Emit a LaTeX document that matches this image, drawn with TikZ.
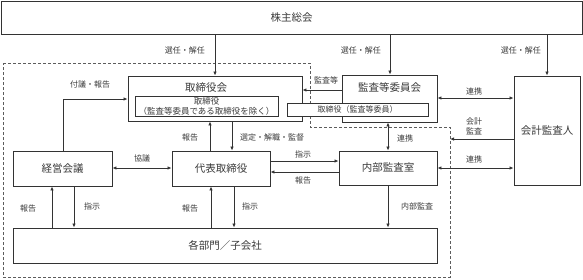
\documentclass[tikz,border=0pt]{standalone}
\usepackage{fontspec}
\setmainfont{Noto Sans CJK JP}
\usetikzlibrary{arrows.meta}
\definecolor{ln}{HTML}{333333}
\definecolor{tx}{HTML}{3A3A3A}
\tikzset{
  box/.style={draw=ln, line width=0.9pt, fill=white, inner sep=0pt, text=tx, font=\fontsize{10.5}{12}\selectfont},
  lbl/.style={inner sep=0pt, text=tx, font=\fontsize{8}{10}\selectfont},
  conn/.style={draw=ln, line width=0.9pt, -{Latex[length=4pt,width=3.5pt]}},
  dconn/.style={draw=ln, line width=0.9pt, {Latex[length=4pt,width=3.5pt]}-{Latex[length=4pt,width=3.5pt]}},
  bound/.style={draw=ln!80, line width=0.9pt, dash pattern=on 3pt off 2pt}
}
\begin{document}
\begin{tikzpicture}[x=1pt,y=-1pt]
\useasboundingbox (0,0) rectangle (583,279);
% dashed boundary
\draw[bound] (3,63) -- (310,63) -- (310,127) -- (450,127) -- (450,277) -- (3,277) -- cycle;
\coordinate (dashR) at (450,139);
% boxes
\node[box, minimum width=581pt, minimum height=33pt] (top) at (291.5,17.5) {株主総会};
\node[box, minimum width=174pt, minimum height=45pt] (tr) at (215,98.5) {};
\node[text=tx, font=\fontsize{10.5}{12}\selectfont, inner sep=0pt] (trt) at (206,87.5) {取締役会};
\node[box, minimum width=143pt, minimum height=20pt, font=\fontsize{8.5}{10}\selectfont, align=center] (trin) at (206.5,106) {取締役\\（監査等委員である取締役を除く）};
\node[box, minimum width=95pt, minimum height=47pt] (kan) at (389.5,98.5) {};
\node[text=tx, font=\fontsize{10.5}{12}\selectfont, inner sep=0pt] (kant) at (389.5,87.5) {監査等委員会};
\node[box, minimum width=141pt, minimum height=13pt, font=\fontsize{8}{10}\selectfont] (trkan) at (357.5,109.5) {取締役（監査等委員）};
\node[box, minimum width=66pt, minimum height=109pt] (kaikei) at (547,130.5) {会計監査人};
\node[box, minimum width=99pt, minimum height=35pt] (keiei) at (62.5,168.5) {経営会議};
\node[box, minimum width=98pt, minimum height=35pt] (daihyo) at (221,168.5) {代表取締役};
\node[box, minimum width=98pt, minimum height=34pt] (naibu) at (388,168) {内部監査室};
\node[box, minimum width=424pt, minimum height=35pt] (bumon) at (225,245.5) {各部門／子会社};
% from top
\draw[conn] (top.south -| tr.north) -- (tr.north);
\draw[conn] (top.south -| 390,0) -- (390,0 |- kan.north);
\draw[conn] (top.south -| kaikei.north) -- (kaikei.north);
\node[lbl, anchor=east] (s1) at (205,50) {選任・解任};
\node[lbl, anchor=east] (s2) at (381,50) {選任・解任};
\node[lbl, anchor=east] (s3) at (541,50) {選任・解任};
% keiei -> tr
\draw[conn] (keiei.north -| 63,0) |- (tr.west |- 0,99);
\node[lbl] (l1) at (90,84) {付議・報告};
% kan -> tr
\draw[conn] (kan.west |- 0,90) -- (tr.east |- 0,90);
\node[lbl] (l2) at (326,80) {監査等};
% daihyo <-> tr
\draw[conn] (daihyo.north -| 210,0) -- (tr.south -| 210,0);
\node[lbl] (l3) at (190,137) {報告};
\draw[conn] (tr.south -| 232,0) -- (daihyo.north -| 232,0);
\node[lbl, anchor=west] (l4) at (240,137) {選定・解職・監督};
% keiei <-> daihyo
\draw[dconn] (keiei.east |- 0,168) -- (daihyo.west |- 0,168);
\node[lbl] (l5) at (142,158) {協議};
% daihyo <-> naibu
\draw[conn] (daihyo.east |- 0,161) -- (naibu.west |- 0,161);
\node[lbl] (l6) at (303,154) {指示};
\draw[conn] (naibu.west |- 0,172) -- (daihyo.east |- 0,172);
\node[lbl] (l7) at (303,180) {報告};
% kan <-> kaikei
\draw[dconn] (kan.east |- 0,98) -- (kaikei.west |- 0,98);
\node[lbl] (l8) at (474,91) {連携};
% kaikei -> boundary
\draw[conn] (kaikei.west |- dashR) -- (dashR);
\node[lbl, align=center] (l9) at (474,126) {会計\\監査};
% kan <-> naibu
\draw[dconn] (kan.south -| 388,0) -- (naibu.north -| 388,0);
\node[lbl] (l10) at (405,138) {連携};
% naibu <-> kaikei
\draw[dconn] (naibu.east |- 0,168) -- (kaikei.west |- 0,168);
\node[lbl] (l11) at (474,159) {連携};
% naibu -> bumon
\draw[conn] (naibu.south -| 388,0) -- (bumon.north -| 388,0);
\node[lbl] (l12) at (417,206) {内部監査};
% keiei <-> bumon
\draw[conn] (bumon.north -| 52,0) -- (keiei.south -| 52,0);
\node[lbl] (l13) at (28,208) {報告};
\draw[conn] (keiei.south -| 74,0) -- (bumon.north -| 74,0);
\node[lbl] (l14) at (92,206) {指示};
% daihyo <-> bumon
\draw[conn] (bumon.north -| 211,0) -- (daihyo.south -| 211,0);
\node[lbl] (l15) at (190,208) {報告};
\draw[conn] (daihyo.south -| 234,0) -- (bumon.north -| 234,0);
\node[lbl] (l16) at (250,206) {指示};
\end{tikzpicture}
\end{document}
